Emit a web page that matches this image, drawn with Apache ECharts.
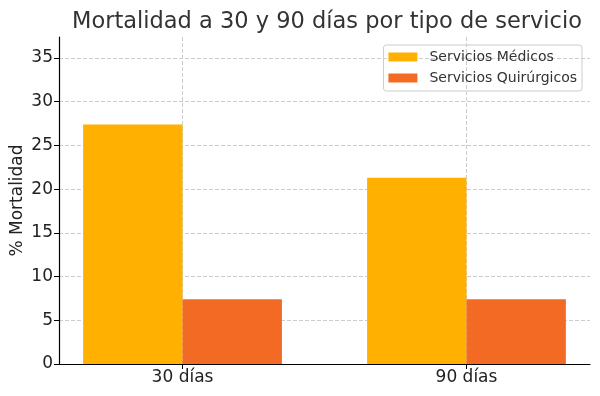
<!DOCTYPE html>
<html>
<head>
<meta charset="utf-8">
<script src="https://cdn.jsdelivr.net/npm/echarts@6/dist/echarts.min.js"></script>
<style>html,body{margin:0;padding:0;background:#fff}#c{width:600px;height:396px}</style>
</head>
<body>
<div id="c"></div>
<script>
const categories = ['30 días', '90 días'];
const seriesNames = ['Servicios Médicos', 'Servicios Quirúrgicos'];
const medicos = [27.4, 21.3];
const quirurgicos = [7.4, 7.4];
const yTicks = [0, 5, 10, 15, 20, 25, 30, 35];

const chart = echarts.init(document.getElementById('c'), null, {renderer: 'canvas'});
const font = 'DejaVu Sans';
const idx = categories.map((c, i) => i);
chart.setOption({
  animation: false,
  textStyle: {fontFamily: font},
  title: {
    text: 'Mortalidad a 30 y 90 días por tipo de servicio',
    left: 322, top: 6, textAlign: 'center',
    textStyle: {fontFamily: font, fontSize: 22.5, fontWeight: 'normal', color: '#333'}
  },
  legend: {
    orient: 'vertical', right: 18, top: 45,
    itemWidth: 29, itemHeight: 9, itemGap: 7,
    icon: 'rect',
    borderColor: '#ccc', borderWidth: 1, borderRadius: 3,
    padding: [5, 5, 6, 5],
    textStyle: {fontFamily: font, fontSize: 14, color: '#333', padding: [0, 0, 0, 7]},
    data: seriesNames
  },
  grid: {left: 59, right: 10, top: 37, bottom: 32, outerBoundsMode: 'none', containLabel: false},
  xAxis: {
    type: 'value', min: -0.435, max: 1.435,
    axisLine: {show: true, onZero: false, lineStyle: {color: '#000', width: 1.2}},
    axisTick: {show: true, customValues: idx, length: 5, lineStyle: {color: '#000'}},
    axisLabel: {customValues: idx, formatter: v => categories[Math.round(v)], fontSize: 17, color: '#222', margin: 5},
    splitLine: {show: true, lineStyle: {type: [4, 2], color: '#ccc'}}
  },
  yAxis: {
    type: 'value', min: 0, max: 37.4,
    name: '% Mortalidad', nameLocation: 'middle', nameGap: 33, nameRotate: 90,
    nameMoveOverlap: false,
    nameTextStyle: {fontFamily: font, fontSize: 17, color: '#222'},
    axisLine: {show: true, onZero: false, lineStyle: {color: '#000', width: 1.2}},
    axisTick: {show: true, customValues: yTicks, length: 5, lineStyle: {color: '#000'}},
    axisLabel: {customValues: yTicks, fontSize: 17, color: '#222', margin: 6},
    splitLine: {show: true, lineStyle: {type: [4, 2], color: '#ccc'}}
  },
  series: [
    {name: seriesNames[0], type: 'bar', barWidth: '35%', barGap: '0%',
     itemStyle: {color: '#FFB000'}, data: medicos.map((v, i) => [i, v])},
    {name: seriesNames[1], type: 'bar', barWidth: '35%', barGap: '0%',
     itemStyle: {color: '#F26A24'}, data: quirurgicos.map((v, i) => [i, v])}
  ]
});
</script>
</body>
</html>
